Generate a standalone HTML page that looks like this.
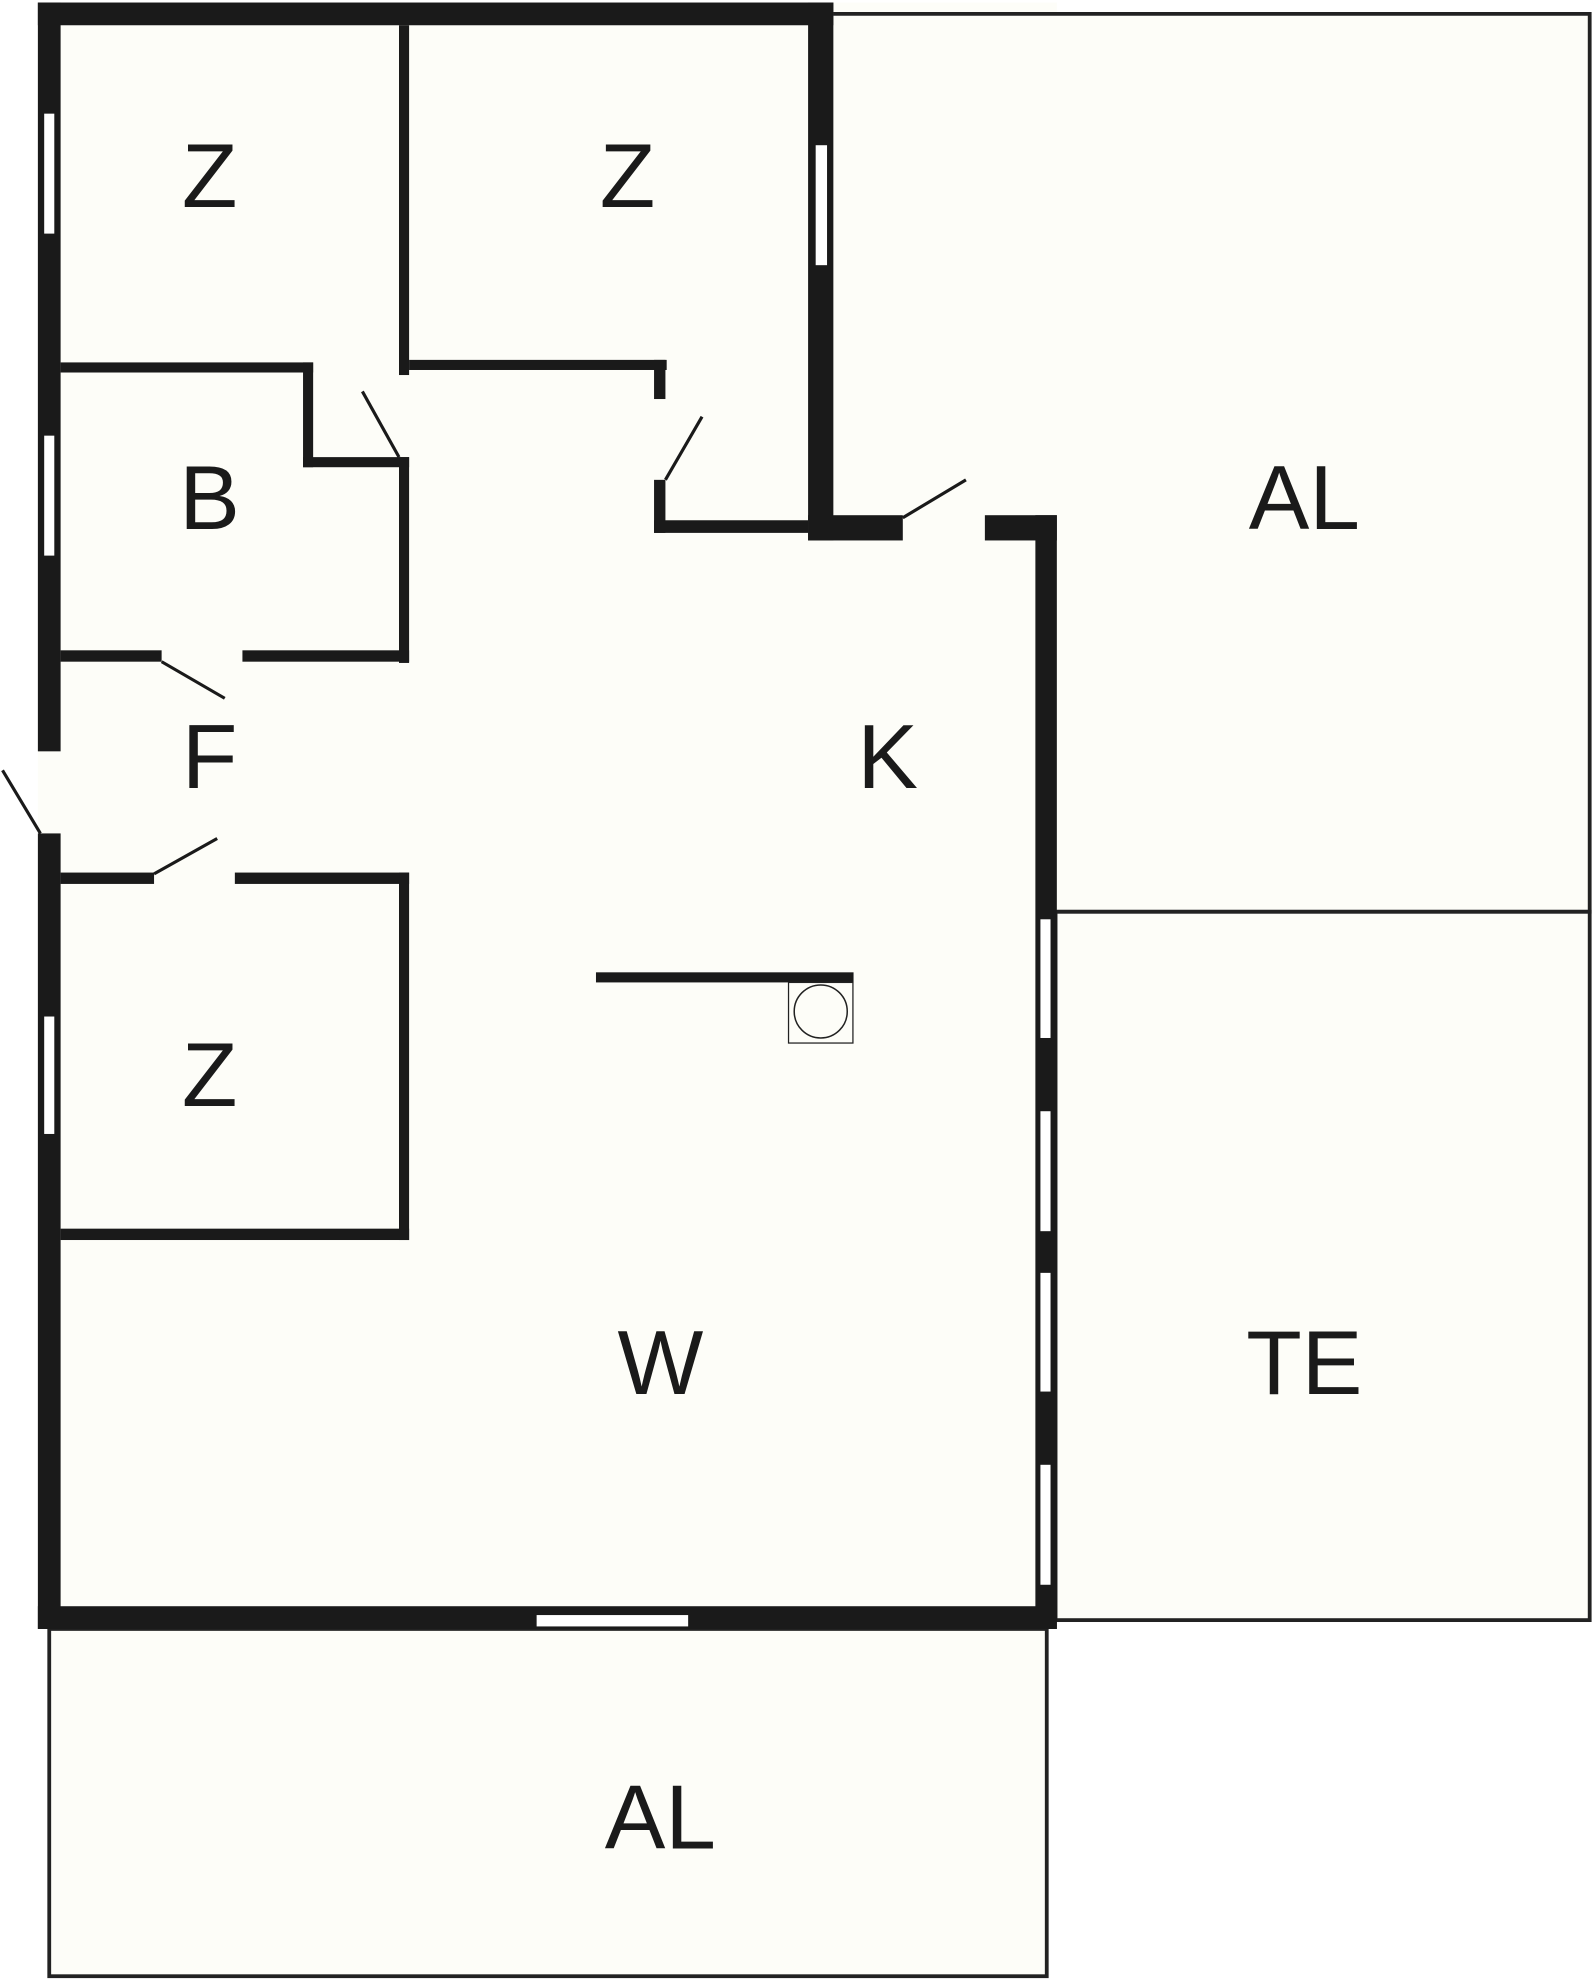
<!DOCTYPE html>
<html><head><style>html,body{margin:0;padding:0;background:#fff;}svg{display:block}</style></head>
<body>
<svg width="1596" height="1980" viewBox="0 0 1264 1568" preserveAspectRatio="none" xmlns="http://www.w3.org/2000/svg">
<rect width="1264" height="1568" fill="#fff"/>
<g fill="#fdfdf8">
<rect x="30" y="2" width="807" height="1288"/>
<rect x="660" y="10" width="600" height="1273"/>
<rect x="38" y="1290" width="792" height="275"/>
</g>
<g fill="none" stroke="#222" stroke-width="3">
<path d="M660,11 H1259 V722 H837"/>
<rect x="836" y="722" width="423" height="561"/>
<rect x="39" y="1290" width="790" height="275"/>
</g>
<g fill="#1a1a1a">
<rect x="30" y="2" width="18" height="593"/>
<rect x="30" y="660" width="18" height="630"/>
<rect x="30" y="2" width="630" height="18"/>
<rect x="640" y="2" width="20" height="426"/>
<rect x="640" y="408" width="75" height="20"/>
<rect x="780" y="408" width="57" height="20"/>
<rect x="820" y="408" width="17" height="882"/>
<rect x="30" y="1272" width="807" height="18"/>
<rect x="316" y="20" width="8" height="277"/>
<rect x="316" y="362" width="8" height="163"/>
<rect x="48" y="287" width="200" height="8"/>
<rect x="240" y="287" width="8" height="83"/>
<rect x="240" y="362" width="84" height="8"/>
<rect x="324" y="285" width="204" height="8"/>
<rect x="518" y="285" width="9" height="31"/>
<rect x="518" y="380" width="9" height="42"/>
<rect x="518" y="412" width="122" height="10"/>
<rect x="48" y="515" width="80" height="9"/>
<rect x="192" y="515" width="132" height="9"/>
<rect x="48" y="691" width="74" height="9"/>
<rect x="186" y="691" width="138" height="9"/>
<rect x="316" y="691" width="8" height="291"/>
<rect x="48" y="973" width="276" height="9"/>
<rect x="472" y="770" width="204" height="8"/>
</g>
<g fill="#fff">
<rect x="35" y="90" width="8" height="95"/>
<rect x="35" y="345" width="8" height="95"/>
<rect x="35" y="805" width="8" height="93"/>
<rect x="646" y="115" width="9" height="95"/>
<rect x="824" y="728" width="8" height="94"/>
<rect x="824" y="880" width="8" height="95"/>
<rect x="824" y="1008" width="8" height="94"/>
<rect x="824" y="1160" width="8" height="95"/>
<rect x="425" y="1279" width="120" height="9"/>
</g>
<g stroke="#1a1a1a" stroke-width="2.5">
<line x1="287" y1="310" x2="316" y2="362"/>
<line x1="527" y1="380" x2="556" y2="330"/>
<line x1="715" y1="410" x2="765" y2="380"/>
<line x1="128" y1="524" x2="178" y2="553"/>
<line x1="2" y1="610" x2="32" y2="660"/>
<line x1="122" y1="692" x2="172" y2="664"/>
</g>
<rect x="624.5" y="778" width="51" height="48" fill="none" stroke="#222" stroke-width="1"/>
<circle cx="650" cy="801" r="21" fill="none" stroke="#222" stroke-width="1.2"/>
<g font-family="Liberation Sans, sans-serif" font-size="72" fill="#1a1a1a" text-anchor="middle">
<text x="166" y="164">Z</text>
<text x="497" y="164">Z</text>
<text x="166" y="419">B</text>
<text x="166" y="624">F</text>
<text x="703" y="624">K</text>
<text x="166" y="876">Z</text>
<text x="523" y="1104">W</text>
<text x="1033" y="419">AL</text>
<text x="1033" y="1104">TE</text>
<text x="523" y="1464">AL</text>
</g>
</svg>
</body></html>
